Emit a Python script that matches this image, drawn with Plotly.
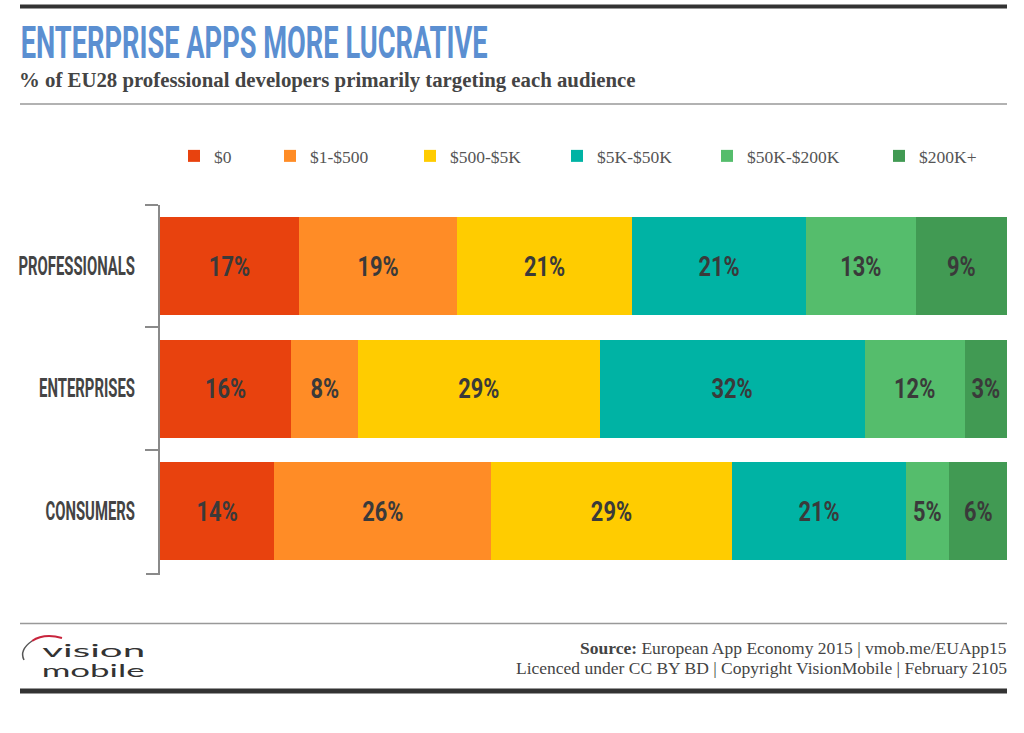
import plotly.graph_objects as go

W, H = 1024, 733
categories = ["PROFESSIONALS", "ENTERPRISES", "CONSUMERS"]
series_names = ["$0", "$1-$500", "$500-$5K", "$5K-$50K", "$50K-$200K", "$200K+"]
series_colors = ["#E8420E", "#FF8C26", "#FFCC00", "#00B3A4", "#55BD6C", "#419A53"]

# Bar lengths as drawn in the picture (they differ a little from the printed labels)
s0 = [16.4, 15.5, 13.5]
s1 = [18.7, 7.9, 25.6]
s2 = [20.6, 28.5, 28.4]
s3 = [20.6, 31.3, 20.6]
s4 = [12.9, 11.8, 5.0]
s5 = [10.8, 5.0, 7.0]
# Printed labels
l0 = ["17%", "16%", "14%"]
l1 = ["19%", "8%", "26%"]
l2 = ["21%", "29%", "29%"]
l3 = ["21%", "32%", "21%"]
l4 = ["13%", "12%", "5%"]
l5 = ["9%", "3%", "6%"]
values = [s0, s1, s2, s3, s4, s5]
labels = [l0, l1, l2, l3, l4, l5]

DISPLAY = "Roboto"
SERIF = "Liberation Serif"
legend_left = [174, 270, 410, 557, 707, 879]


def px(x):
    return x / W


def py(y):
    return 1 - y / H


fig = go.Figure()
for i, name in enumerate(series_names):
    fig.add_trace(go.Bar(
        y=categories, x=values[i], name=name, orientation="h",
        marker=dict(color=series_colors[i], line=dict(width=0)),
        text=labels[i], textposition="inside", insidetextanchor="middle",
        textangle=0, constraintext="none",
        textfont=dict(family=DISPLAY, size=28, color="#3A3A3A", weight="bold"),
        legend="legend" if i == 0 else f"legend{i + 1}",
        hoverinfo="skip",
    ))

layout_legends = {}
for i in range(6):
    key = "legend" if i == 0 else f"legend{i + 1}"
    layout_legends[key] = dict(
        x=px(legend_left[i]), y=py(156), xanchor="left", yanchor="middle",
        orientation="h", bgcolor="rgba(0,0,0,0)", itemclick=False, itemdoubleclick=False,
        font=dict(family=SERIF, size=17.5, color="#555555"),
    )

shapes = [
    dict(type="line", xref="paper", yref="paper", x0=px(20), x1=px(1007), y0=py(6.5), y1=py(6.5),
         line=dict(color="#333333", width=4)),
    dict(type="line", xref="paper", yref="paper", x0=px(20), x1=px(1007), y0=py(104), y1=py(104),
         line=dict(color="#999999", width=1.5)),
    dict(type="line", xref="paper", yref="paper", x0=px(20), x1=px(1007), y0=py(623.5), y1=py(623.5),
         line=dict(color="#999999", width=1.5)),
    dict(type="line", xref="paper", yref="paper", x0=px(20), x1=px(1007), y0=py(691), y1=py(691),
         line=dict(color="#333333", width=5)),
    # foot of the bracket on the category axis
    dict(type="path", xref="paper", yref="paper", line=dict(color="#8A8A8A", width=2),
         path=f"M {px(146)},{py(574)} L {px(159)},{py(574)} L {px(159)},{py(571)}"),
    # logo swoosh
    dict(type="path", xref="paper", yref="paper", line=dict(color="#C8243C", width=2),
         path=f"M {px(32)},{py(641)} Q {px(44)},{py(633)} {px(62)},{py(638)}"),
    dict(type="path", xref="paper", yref="paper", line=dict(color="#555555", width=1.5),
         path=f"M {px(24)},{py(660)} Q {px(19)},{py(650)} {px(32)},{py(641)}"),
]


def note(text, x, y, size, color, family, anchor="left", weight="normal"):
    return dict(text=text, x=px(x), y=py(y), xref="paper", yref="paper", showarrow=False,
                xanchor=anchor, yanchor="middle",
                font=dict(family=family, size=size, color=color, weight=weight))


annotations = [
    note("ENTERPRISE APPS MORE LUCRATIVE", 253.5, 43, 44, "#5B8FD1", DISPLAY, "center", "bold"),
    note("% of EU28 professional developers primarily targeting each audience", 17, 80.5, 20.8,
         "#444444", SERIF, "left", "bold"),
    note("<b>Source:</b> European App Economy 2015 | vmob.me/EUApp15", 1009, 648, 17.5, "#444444", SERIF, "right"),
    note("Licenced under CC BY BD | Copyright VisionMobile | February 2105", 1009, 668, 17.5, "#444444", SERIF, "right"),
    note("vision", 93, 650, 17, "#333333", "Lato", "center"),
    note("mobile", 93, 670, 17, "#333333", "Lato", "center"),
]

fig.update_layout(
    width=W, height=H, margin=dict(l=0, r=0, t=0, b=0, autoexpand=False),
    paper_bgcolor="white", plot_bgcolor="white",
    barmode="stack", bargap=0.2, showlegend=True,
    xaxis=dict(domain=[px(160), px(1007)], range=[0, 100], visible=False, fixedrange=True,
               automargin=False),
    yaxis=dict(domain=[py(572.25), py(204.75)], range=[2.5, -0.5], type="category",
               tickson="boundaries", ticks="outside", ticklen=13, tickwidth=2, tickcolor="#8A8A8A",
               showline=True, linecolor="#8A8A8A", linewidth=2, showgrid=False, zeroline=False,
               ticklabelstandoff=18, fixedrange=True, automargin=False,
               tickfont=dict(family=DISPLAY, size=25, color="#444444", weight="bold")),
    shapes=shapes, annotations=annotations,
    **layout_legends,
)

# The reference's display lettering is a condensed face that is not installed:
# scale the real text horizontally about its anchor to the same proportions.
post = """
document.body.style.margin='0';
function squeeze(t,k){
  var x=parseFloat(t.getAttribute('x')||0), old=t.getAttribute('transform')||'';
  t.setAttribute('transform',old+' translate('+x+',0) scale('+k+',1) translate('+(-x)+',0)');
}
document.querySelectorAll('.ytick text').forEach(function(t){squeeze(t,0.595);});
document.querySelectorAll('.bartext').forEach(function(t){squeeze(t,0.78);});
document.querySelectorAll('.annotation-text').forEach(function(t){
  var s=t.textContent, n=t.getComputedTextLength();
  if(s.indexOf('ENTERPRISE')===0){squeeze(t,467/n);}
  if(s==='vision'||s==='mobile'){squeeze(t,103/n);}
});
"""
fig.write_html("out.html", config={"displayModeBar": False}, post_script=post)
